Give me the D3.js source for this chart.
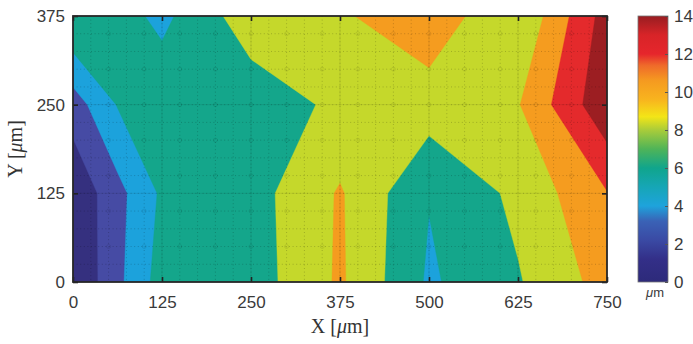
<!DOCTYPE html>
<html><head><meta charset="utf-8">
<script src="https://cdn.jsdelivr.net/npm/d3@7"></script>
<style>body{margin:0;background:#fff}</style>
</head><body>
<svg id="chart" width="693" height="344"></svg>
<script>
// ---- data ----
const xSamples = [0, 62.5, 125, 250, 375, 500, 625, 750];
const ySamples = [0, 125, 250, 375];
const rowY0   = [0.1, 3.5, 6.9, 7.0, 10.3, 5.7, 7.83, 10.81];
const rowY125 = [0.38, 3.35, 6.33, 7.18, 10.2, 6.1, 8.48, 11.9];
const rowY250 = [3.0, 6.1, 7.29, 6.8, 8.45, 9.03, 9.86, 15.56];
const rowY375 = [8.1, 6.8, 5.5, 9.15, 9.73, 11.36, 8.05, 14.9];
const levels = [0, 2, 4, 6, 8, 10, 12, 14];
const bandColors = ['#35307f', '#464ba4', '#1ca2dc', '#14a68b', '#c5d82b', '#f59c1f', '#e42a2c', '#9c1e22'];
const xTicks = [0, 125, 250, 375, 500, 625, 750];
const yTicks = [0, 125, 250, 375];
const cbTicks = [0, 2, 4, 6, 8, 10, 12, 14];
const cbStops = [
  [0, '#2d2a7a'], [1.2, '#332f88'], [2.2, '#3a4aa4'], [3.2, '#3a62b6'], [4.0, '#1ea3dc'],
  [5.0, '#16a6b6'], [6.0, '#10a58c'], [7.0, '#4fb458'], [8.0, '#a9cc3a'], [8.7, '#f3e517'],
  [9.6, '#f8b41e'], [10.6, '#f59a20'], [11.4, '#ef6a2a'], [12.0, '#e6262c'], [13.0, '#d82428'], [14, '#981d21']
];

const svg = d3.select('#chart');
const L = 73, R = 607, T = 16, B = 282;
const x = d3.scaleLinear().domain([0, 750]).range([L, R]);
const y = d3.scaleLinear().domain([0, 375]).range([B, T]);

// grid index -> data coordinate (d3.contours puts sample i at i+0.5)
const nx = xSamples.length, ny = ySamples.length;
const ix = d3.scaleLinear().domain(d3.range(nx).map(i => i + 0.5)).range(xSamples);
const iy = d3.scaleLinear().domain(d3.range(ny).map(i => i + 0.5)).range(ySamples);

const values = [].concat(rowY0, rowY125, rowY250, rowY375);
const contours = d3.contours().size([nx, ny]).thresholds(levels)(values);

const proj = d3.geoTransform({ point(px, py) { this.stream.point(x(ix(px)), y(iy(py))); } });
const path = d3.geoPath(proj);

svg.append('clipPath').attr('id', 'plotclip')
  .append('rect').attr('x', L).attr('y', T).attr('width', R - L).attr('height', B - T);

const plot = svg.append('g').attr('clip-path', 'url(#plotclip)');
plot.append('rect').attr('x', L).attr('y', T).attr('width', R - L).attr('height', B - T)
  .attr('fill', bandColors[0]);
plot.selectAll('path.band').data(contours).join('path')
  .attr('class', 'band')
  .attr('d', path)
  .attr('fill', d => bandColors[levels.indexOf(d.value)])
  .attr('stroke', d => bandColors[levels.indexOf(d.value)])
  .attr('stroke-width', 0.4);

// faint measurement grid
const gx = d3.range(25, 750, 25), gy = d3.range(25, 375, 25);
const grid = plot.append('g').attr('stroke', '#000').attr('stroke-opacity', 0.2)
  .attr('stroke-width', 1).attr('stroke-dasharray', '1,2.6');
grid.selectAll('line.v').data(gx).join('line').attr('class', 'v')
  .attr('x1', d => x(d)).attr('x2', d => x(d)).attr('y1', T).attr('y2', B);
grid.selectAll('line.h').data(gy).join('line').attr('class', 'h')
  .attr('y1', d => y(d)).attr('y2', d => y(d)).attr('x1', L).attr('x2', R);
const tg = plot.append('g').attr('stroke', '#000').attr('stroke-opacity', 0.07).attr('stroke-width', 1);
tg.selectAll('line.tv').data(xTicks.slice(1, -1)).join('line').attr('class', 'tv')
  .attr('x1', d => x(d)).attr('x2', d => x(d)).attr('y1', T).attr('y2', B);
tg.selectAll('line.th').data(yTicks.slice(1, -1)).join('line').attr('class', 'th')
  .attr('y1', d => y(d)).attr('y2', d => y(d)).attr('x1', L).attr('x2', R);
const circ = [];
d3.range(50, 750, 50).forEach(a => d3.range(50, 375, 50).forEach(b => circ.push([a, b])));
plot.append('g').selectAll('circle').data(circ).join('circle')
  .attr('cx', d => x(d[0])).attr('cy', d => y(d[1])).attr('r', 2)
  .attr('fill', 'none').attr('stroke', '#000').attr('stroke-opacity', 0.1).attr('stroke-width', 0.8);

// axes
const font = '"Liberation Sans", Arial, sans-serif';
function styleAxis(g) {
  g.select('.domain').remove();
  g.selectAll('.tick line').attr('stroke', '#222').attr('stroke-width', 1.6);
  g.selectAll('.tick text').attr('fill', '#3a3a3a').attr('font-size', 17).attr('font-family', font);
}
svg.append('g').attr('transform', `translate(0,${B})`)
  .call(d3.axisBottom(x).tickValues(xTicks).tickSize(-5).tickPadding(14)).call(styleAxis);
svg.append('g').attr('transform', `translate(0,${T})`)
  .call(d3.axisTop(x).tickValues(xTicks).tickSize(-5).tickFormat('')).call(styleAxis);
svg.append('g').attr('transform', `translate(${L},0)`)
  .call(d3.axisLeft(y).tickValues(yTicks).tickSize(-5).tickPadding(8)).call(styleAxis);
svg.append('g').attr('transform', `translate(${R},0)`)
  .call(d3.axisRight(y).tickValues(yTicks).tickSize(-5).tickFormat('')).call(styleAxis);

svg.append('rect').attr('x', L).attr('y', T).attr('width', R - L).attr('height', B - T)
  .attr('fill', 'none').attr('stroke', '#262626').attr('stroke-width', 1.8);

// axis titles
const serif = '"Liberation Serif", "Times New Roman", serif';
const xt = svg.append('text').attr('x', (L + R) / 2).attr('y', 333).attr('text-anchor', 'middle')
  .attr('font-family', serif).attr('font-size', 20).attr('fill', '#333');
xt.append('tspan').text('X [');
xt.append('tspan').attr('font-style', 'italic').text('μ');
xt.append('tspan').text('m]');
const yt = svg.append('text').attr('transform', `translate(22,${(T + B) / 2}) rotate(-90)`)
  .attr('text-anchor', 'middle').attr('font-family', serif).attr('font-size', 20).attr('fill', '#333');
yt.append('tspan').text('Y [');
yt.append('tspan').attr('font-style', 'italic').text('μ');
yt.append('tspan').text('m]');

// colorbar
const CL = 638, CR = 668;
const cy = d3.scaleLinear().domain([0, 14]).range([B, T]);
const grad = svg.append('defs').append('linearGradient').attr('id', 'cbgrad')
  .attr('x1', 0).attr('y1', 1).attr('x2', 0).attr('y2', 0);
grad.selectAll('stop').data(cbStops).join('stop')
  .attr('offset', d => d[0] / 14).attr('stop-color', d => d[1]);
svg.append('rect').attr('x', CL).attr('y', T).attr('width', CR - CL).attr('height', B - T)
  .attr('fill', 'url(#cbgrad)').attr('stroke', '#777').attr('stroke-width', 0.8);
svg.append('g').attr('transform', `translate(${CR},0)`)
  .call(d3.axisRight(cy).tickValues(cbTicks).tickSize(-3).tickPadding(6)).call(styleAxis)
  .selectAll('.tick line').attr('stroke', '#555').attr('stroke-width', 1);
const mu = svg.append('text').attr('x', 655).attr('y', 297).attr('text-anchor', 'middle')
  .attr('font-family', font).attr('font-size', 13).attr('fill', '#3a3a3a');
mu.append('tspan').attr('font-style', 'italic').text('μ');
mu.append('tspan').text('m');
</script>
</body></html>
